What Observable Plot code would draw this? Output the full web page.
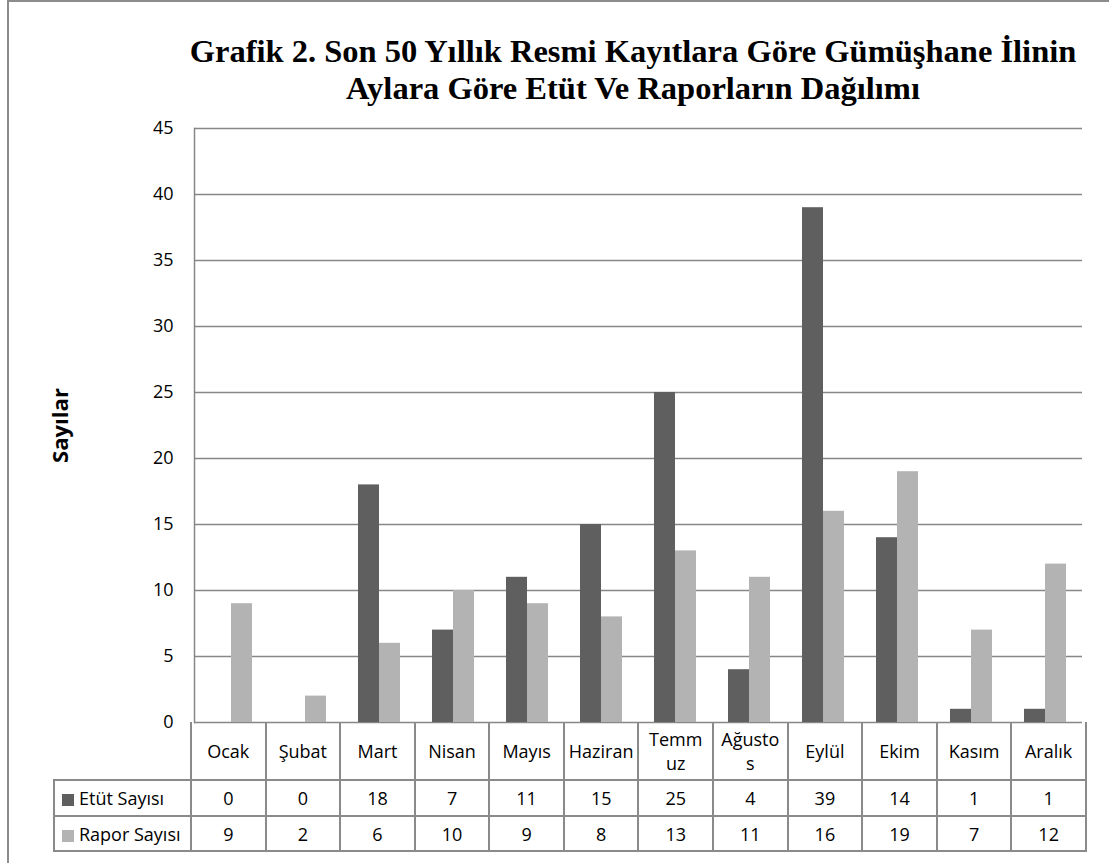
<!DOCTYPE html>
<html>
<head>
<meta charset="utf-8">
<script src="https://cdn.jsdelivr.net/npm/d3@7"></script>
<script src="https://cdn.jsdelivr.net/npm/@observablehq/plot@0.6"></script>
<style>
  html, body { margin: 0; padding: 0; background: #fff; }
  #wrap { position: relative; width: 1109px; height: 863px; overflow: hidden; background: #fff; }
  #box { position: absolute; left: 7px; top: 0px; width: 1300px; height: 1000px; border-left: 2px solid #8c8c8c; border-top: 2px solid #8c8c8c; }
  #title { position: absolute; left: 150px; width: 966px; top: 32.5px; text-align: center;
    font-family: "Liberation Serif", "Times New Roman", serif; font-weight: bold; font-size: 32.5px; line-height: 37px; color: #000; white-space: nowrap; }
  #chart { position: absolute; left: 0; top: 110px; }
  #chart g[aria-label="y-axis label"] text { font-weight: bold; font-size: 21px; }
  #tbl { position: absolute; left: 53px; top: 722px; border-collapse: collapse; table-layout: fixed;
    font-family: "Open Sans", sans-serif; font-size: 18px; color: #000; }
  #tbl td { border: 2px solid #8a8a8a; text-align: center; padding: 0; }
  #tbl tr.head td { border-top: none; height: 57px; }
  #tbl tr.head td.corner { border-left: none; border-bottom: none; }
  #tbl tr.row1 td { height: 34px; }
  #tbl tr.row2 td { height: 33px; }
  #tbl td.lab { text-align: left; padding-left: 7px; white-space: nowrap; }
  .sw { display: inline-block; width: 12px; height: 12px; margin-right: 5px; vertical-align: -1px; }
  .cat { margin: 0 auto; line-height: 24px; }
  .cat.wrap { word-break: break-all; }
</style>
</head>
<body>
<div id="wrap">
  <div id="box"></div>
  <div id="title">Grafik 2. Son 50 Yıllık Resmi Kayıtlara Göre Gümüşhane İlinin<br>Aylara Göre Etüt Ve Raporların Dağılımı</div>
  <div id="chart"></div>
  <table id="tbl"></table>
</div>
<script>
const months = ["Ocak","Şubat","Mart","Nisan","Mayıs","Haziran","Temmuz","Ağustos","Eylül","Ekim","Kasım","Aralık"];
const series = ["Etüt Sayısı","Rapor Sayısı"];
const etut  = [0, 0, 18, 7, 11, 15, 25, 4, 39, 14, 1, 1];
const rapor = [9, 2, 6, 10, 9, 8, 13, 11, 16, 19, 7, 12];
const yTicks = [0, 5, 10, 15, 20, 25, 30, 35, 40, 45];
const yLabel = "Sayılar";
const seriesColors = ["#5f5f5f", "#b3b3b3"];

const values = [etut, rapor];
const data = months.flatMap((m, i) => series.map((s, j) => ({month: m, series: s, value: values[j][i]})));

const chart = Plot.plot({
  width: 1109,
  height: 632,
  marginTop: 18,
  marginBottom: 20,
  marginLeft: 190,
  marginRight: 24,
  style: {fontFamily: "'Open Sans', sans-serif", fontSize: "18px", color: "#000", background: "transparent", overflow: "visible"},
  fx: {domain: months, paddingInner: 0, paddingOuter: 0, axis: null, label: null},
  x: {domain: series, paddingInner: 0, paddingOuter: 0.735, axis: null, label: null},
  y: {domain: [0, 45]},
  color: {domain: series, range: seriesColors},
  marks: [
    Plot.ruleY(yTicks, {stroke: "#878787", strokeWidth: 1.5}),
    Plot.barY(data, {fx: "month", x: "series", y: "value", fill: "series", inset: 0}),
    Plot.axisY(yTicks, {tickSize: 0, tickPadding: 21, label: yLabel, labelAnchor: "center", labelArrow: "none", labelOffset: 141}),
    Plot.frame({anchor: "left", facet: "super", stroke: "#878787", strokeWidth: 1.5})
  ]
});
document.getElementById("chart").append(chart);
d3.select(chart).select('g[aria-label="y-axis label"] text')
  .attr("textLength", 75).attr("lengthAdjust", "spacingAndGlyphs");

// data table below the chart
const colW = (1085 - 190) / 12;
const ctx = document.createElement("canvas").getContext("2d");
ctx.font = "18px 'Open Sans'";
const mw = s => ctx.measureText(s).width;
const fitW = Math.ceil(mw("Haziran")) + 1;      // widest label kept on one line
const breakW = Math.ceil(mw("Ağusto")) + 1;     // line width used where a label wraps

const tbl = d3.select("#tbl");
const cg = tbl.append("colgroup");
cg.append("col").style("width", (190 - 53) + "px");
months.forEach(() => cg.append("col").style("width", colW + "px"));
tbl.style("width", (1085 - 53) + "px");

const head = tbl.append("tr").attr("class", "head");
head.append("td").attr("class", "corner");
months.forEach(m => {
  const fits = mw(m) <= fitW;
  head.append("td").append("div")
    .attr("class", fits ? "cat" : "cat wrap")
    .style("width", (fits ? fitW : breakW) + "px")
    .text(m);
});

series.forEach((s, j) => {
  const tr = tbl.append("tr").attr("class", "row" + (j + 1));
  const lab = tr.append("td").attr("class", "lab");
  lab.append("span").attr("class", "sw").style("background", seriesColors[j]);
  lab.append("span").text(s);
  values[j].forEach(v => tr.append("td").text(v));
});
</script>
</body>
</html>
